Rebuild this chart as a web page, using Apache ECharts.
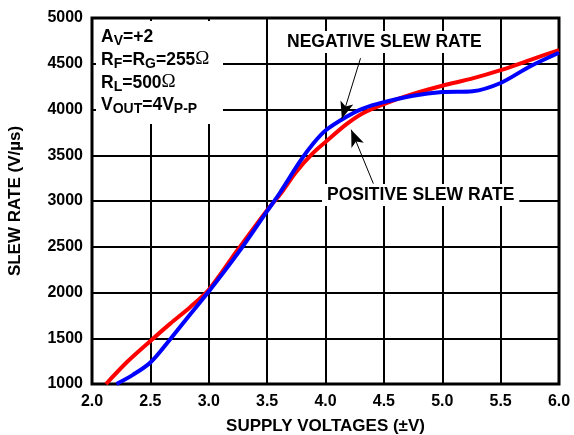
<!DOCTYPE html>
<html>
<head>
<meta charset="utf-8">
<script src="https://cdn.jsdelivr.net/npm/echarts@6/dist/echarts.min.js"></script>
<style>
html,body{margin:0;padding:0;background:#fff;}
#c{width:574px;height:435px;}
</style>
</head>
<body>
<div id="c"></div>
<script>
// Data
var xTicks = ['2.0','2.5','3.0','3.5','4.0','4.5','5.0','5.5','6.0'];
var yTicks = ['1000','1500','2000','2500','3000','3500','4000','4500','5000'];

var posX = [2.12, 2.3, 2.5, 2.67, 2.84, 3.0, 3.25, 3.5, 3.61, 3.75, 3.89, 4.0, 4.18, 4.32, 4.5, 4.75, 5.0, 5.26, 5.5, 5.75, 6.0];
var posY = [1000, 1240, 1470, 1660, 1840, 2030, 2470, 2900, 3070, 3320, 3520, 3645, 3840, 3960, 4060, 4170, 4260, 4340, 4430, 4540, 4650];

var negX = [2.21, 2.35, 2.5, 2.67, 2.84, 3.0, 3.25, 3.5, 3.61, 3.78, 3.89, 4.0, 4.18, 4.32, 4.5, 4.75, 5.0, 5.26, 5.5, 5.75, 6.0];
var negY = [1000, 1100, 1235, 1490, 1760, 2010, 2430, 2890, 3090, 3430, 3620, 3770, 3920, 4010, 4080, 4150, 4190, 4200, 4290, 4470, 4620];

// Test-condition lines: [text, kind] with kind n = normal, s = subscript, o = omega
var condLines = [
  [['A','n'],['V','s'],['=+2','n']],
  [['R','n'],['F','s'],['=R','n'],['G','s'],['=255','n'],['Ω','o']],
  [['R','n'],['L','s'],['=500','n'],['Ω','o']],
  [['V','n'],['OUT','s'],['=4V','n'],['P-P','s']]
];

function pairs(xs, ys){ return xs.map(function(x,i){ return [x, ys[i]]; }); }

var FONT = 'Arial, "Liberation Sans", Helvetica, sans-serif';
var FONTS = {
  n: 'bold 17.5px ' + FONT,
  s: 'bold 14px ' + FONT,
  o: '19px "Liberation Serif", "Times New Roman", serif'
};
var DY = {n: 0, s: 6, o: -1};

var ctx = document.createElement('canvas').getContext('2d');
function buildCond(){
  var els = [{type:'rect', shape:{x:96, y:21, width:127, height:103}, style:{fill:'#fff'}, z: 90}];
  var tops = [28, 51, 74, 96];
  condLines.forEach(function(line, li){
    var x = 101;
    line.forEach(function(p){
      ctx.font = FONTS[p[1]];
      els.push({type:'text', x: x, y: tops[li] + DY[p[1]], z: 100,
        style:{text: p[0], font: FONTS[p[1]], fill:'#000', textVerticalAlign:'top', verticalAlign:'top'}});
      x += ctx.measureText(p[0]).width;
    });
  });
  return els;
}

var chart = echarts.init(document.getElementById('c'), null, {renderer:'canvas'});

var option = {
  animation: false,
  backgroundColor: '#fff',
  grid: {left: 92, right: 15, top: 18, bottom: 51, show: true, borderColor: '#000', borderWidth: 3,
    backgroundColor: 'transparent', outerBoundsMode: 'none', containLabel: false},
  xAxis: {
    type: 'value', min: 2, max: 6, interval: 0.5,
    axisLine: {show: false}, axisTick: {show: false},
    splitLine: {show: true, lineStyle: {color: '#000', width: 2}},
    axisLabel: {margin: 10, fontSize: 16, fontWeight: 'bold', fontFamily: FONT, color: '#000',
      formatter: function(v){ return xTicks[Math.round((v-2)/0.5)]; }},
    name: 'SUPPLY VOLTAGES (±V)', nameLocation: 'middle', nameGap: 34,
    nameTextStyle: {fontSize: 17, fontWeight: 'bold', fontFamily: FONT, color: '#000'}
  },
  yAxis: {
    type: 'value', min: 1000, max: 5000, interval: 500,
    axisLine: {show: false}, axisTick: {show: false},
    splitLine: {show: true, lineStyle: {color: '#000', width: 2}},
    axisLabel: {margin: 9, fontSize: 16, fontWeight: 'bold', fontFamily: FONT, color: '#000',
      formatter: function(v){ return yTicks[Math.round((v-1000)/500)]; }},
    name: 'SLEW RATE (V/µs)', nameLocation: 'middle', nameGap: 68,
    nameTextStyle: {fontSize: 17, fontWeight: 'bold', fontFamily: FONT, color: '#000'}
  },
  series: [
    {
      name: 'POSITIVE SLEW RATE', type: 'line', data: pairs(posX, posY),
      smooth: 0.3, showSymbol: false, lineStyle: {color: '#ff0000', width: 4}, z: 3,
      markLine: {
        silent: true, symbol: ['none','arrow'], symbolSize: [10,17],
        lineStyle: {color: '#000', width: 1, type: 'solid'}, label: {show: false},
        data: [
          [{coord: [4.30, 4560]}, {coord: [4.14, 3900]}],
          [{coord: [4.41, 3190]}, {coord: [4.22, 3780]}]
        ]
      }
    },
    {
      name: 'NEGATIVE SLEW RATE', type: 'line', data: pairs(negX, negY),
      smooth: 0.3, showSymbol: false, lineStyle: {color: '#0000ff', width: 4}, z: 4
    }
  ],
  graphic: buildCond().concat([
    {type:'text', left: 283, top: 31, z: 100,
      style:{text:'NEGATIVE SLEW RATE', font: 'bold 17.5px ' + FONT, fill:'#000', backgroundColor:'#fff', padding:[2,4]}},
    {type:'text', left: 322, top: 184, z: 100,
      style:{text:'POSITIVE SLEW RATE', font: 'bold 17.5px ' + FONT, fill:'#000', backgroundColor:'#fff', padding:[2,5]}}
  ])
};
chart.setOption(option);
</script>
</body>
</html>
